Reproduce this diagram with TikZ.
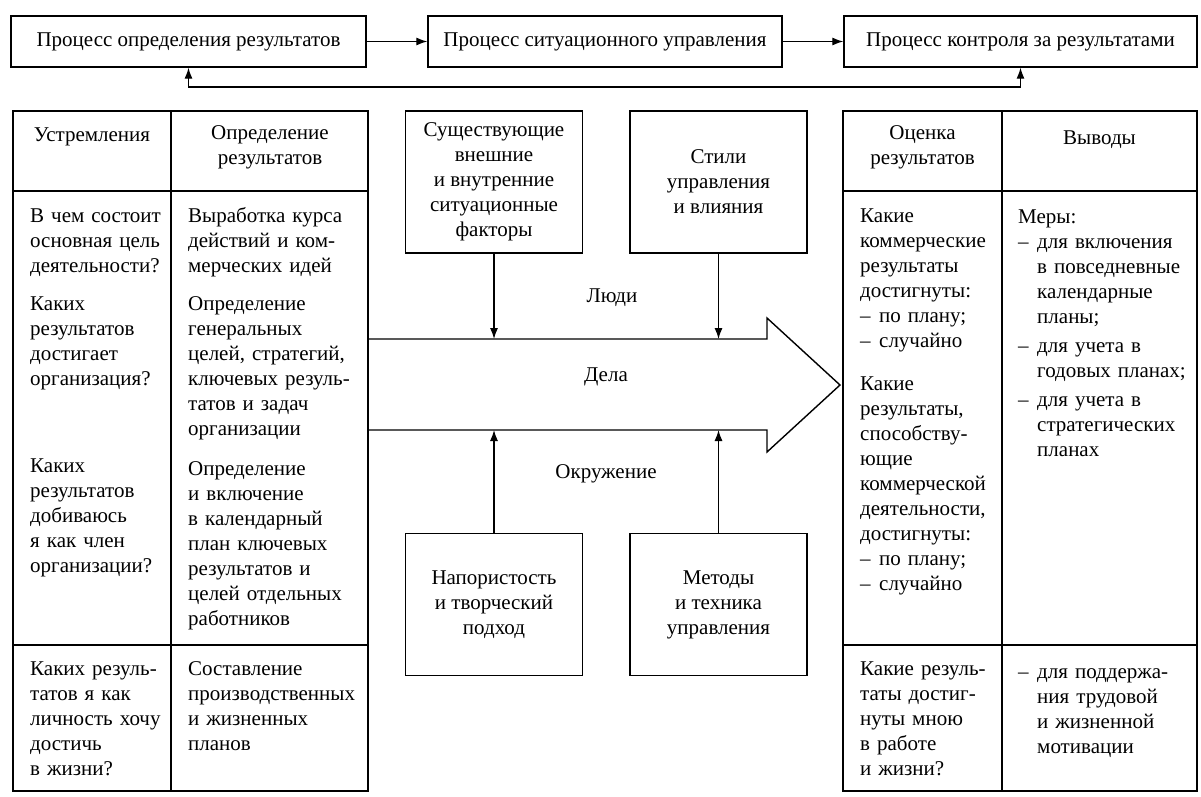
\documentclass[tikz,border=0pt]{standalone}
\usepackage{fontspec}
\setmainfont{Liberation Serif}
\usetikzlibrary{calc,positioning,arrows.meta}
\setlength\parindent{0pt}
\newcommand\dfont{\fontsize{21}{25}\selectfont}
\newcommand\itm{\hangindent=19pt\hangafter=1\noindent\makebox[19pt][l]{–}}
\tikzset{
  procbox/.style={draw,line width=1.4pt,minimum height=51,inner sep=0pt,font=\dfont},
  factbox/.style={draw,line width=1.4pt,minimum width=177,minimum height=142,align=center,inner sep=0pt,font=\dfont},
  cell/.style={anchor=north west,inner sep=0pt,align=left,font=\dfont,execute at begin node=\strut},
  head/.style={anchor=north,inner sep=0pt,align=center,font=\dfont,execute at begin node=\strut},
  lbl/.style={inner sep=0pt,font=\dfont},
  tbl/.style={line width=1.4pt},
  con/.style={line width=1.2pt}
}

\begin{document}
\begin{tikzpicture}[x=1pt,y=-1pt,>={Latex[length=11pt,width=8pt]}]
\useasboundingbox (0,0) rectangle (1201,797);
% processes on top
\node[procbox,minimum width=355] (p1) at (188.5,41.5) {Процесс определения результатов};
\node[procbox,minimum width=354] (p2) at (605,41.5) {Процесс ситуационного управления};
\node[procbox,minimum width=353] (p3) at (1020.5,41.5) {Процесс контроля за результатами};
\draw[con,->] (p1) -- (p2);
\draw[con,->] (p2) -- (p3);
\coordinate (fb) at (0,87);
\draw[con,<->] (p1.south) -- (p1.south |- fb) -| (p3.south);

% the two tables
\foreach \xa/\xb/\xc in {13/171/368, 843/1002/1197}
{
\draw[tbl] (\xa,111) rectangle (\xc,791);
\draw[tbl] (\xb,111) -- (\xb,791);
\draw[tbl] (\xa,191) -- (\xc,191);
\draw[tbl] (\xa,645) -- (\xc,645);
}
\node[head] (h1) at (92,124) {Устремления};
\node[head] (h2) at (270,125) {Определение\\результатов};
\node[head] (h3) at (922.5,125) {Оценка\\результатов};
\node[head] (h4) at (1099.5,127) {Выводы};

% left table
\node[cell,text width=152] (a1) at (30,204.5) {В чем состоит\\основная цель\\деятельности?};
\node[cell,text width=152] (a2) at (30,292.5) {Каких\\результатов\\достигает\\организация?};
\node[cell,text width=152] (a3) at (30,454.5) {Каких\\результатов\\добиваюсь\\я как член\\организации?};
\node[cell,text width=152] (a4) at (30,657.5) {Каких резуль-\\татов я как\\личность хочу\\достичь\\в жизни?};
\node[cell,text width=180] (b1) at (188,204.5) {Выработка курса\\действий и ком-\\мерческих идей};
\node[cell,text width=180] (b2) at (188,292.5) {Определение\\генеральных\\целей, стратегий,\\ключевых резуль-\\татов и задач\\организации};
\node[cell,text width=180] (b3) at (188,457.5) {Определение\\и включение\\в календарный\\план ключевых\\результатов и\\целей отдельных\\работников};
\node[cell,text width=180] (b4) at (188,657.5) {Составление\\производственных\\и жизненных\\планов};

% right table
\node[cell,text width=152] (c1) at (860,204.5) {Какие\\коммерческие\\результаты\\достигнуты:\par\itm по плану;\par\itm случайно};
\node[cell,text width=152] (c2) at (860,372.5) {Какие\\результаты,\\способству-\\ющие\\коммерческой\\деятельности,\\достигнуты:\par\itm по плану;\par\itm случайно};
\node[cell,text width=152] (c3) at (860,657.5) {Какие резуль-\\таты достиг-\\нуты мною\\в работе\\и жизни?};
\node[cell,text width=178] (d1) at (1018,205.5) {Меры:\par\itm для включения\newline в повседневные\newline календарные\newline планы;\par\vspace{4pt}\itm для учета в\newline годовых планах;\par\vspace{4pt}\itm для учета в\newline стратегических\newline планах\par};
\node[cell,text width=178] (d2) at (1018,660.5) {\itm для поддержа-\newline ния трудовой\newline и жизненной\newline мотивации\par};

% situational factors
\node[factbox] (f1) at (494,182) {Существующие\\внешние\\и внутренние\\ситуационные\\факторы};
\node[factbox] (f2) at (718.5,182) {Стили\\управления\\и влияния};
\node[factbox] (f3) at (494,604.5) {Напористость\\и творческий\\подход};
\node[factbox] (f4) at (718.5,604.5) {Методы\\и техника\\управления};

% big arrow
\coordinate (up) at (0,339);
\coordinate (dn) at (0,430);
\draw[tbl] (368,339) -- (767,339) -- (767,318) -- (840,385) -- (767,452) -- (767,430) -- (368,430);
\draw[con,->] (f1.south) -- (f1.south |- up);
\draw[con,->] (f2.south) -- (f2.south |- up);
\draw[con,->] (f3.north) -- (f3.north |- dn);
\draw[con,->] (f4.north) -- (f4.north |- dn);
\node[lbl] (l1) at (612,298) {Люди};
\node[lbl] (l2) at (606,377) {Дела};
\node[lbl] (l3) at (606,474) {Окружение};
\end{tikzpicture}
\end{document}
